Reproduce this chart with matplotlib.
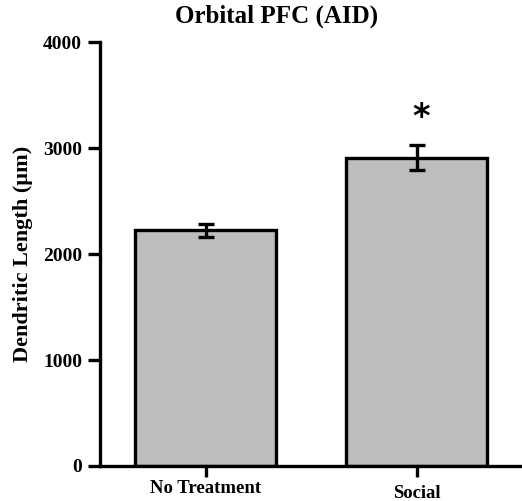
import matplotlib.pyplot as plt
import matplotlib.transforms as mtransforms

plt.rcParams['font.family'] = ['Liberation Serif', 'DejaVu Serif']
plt.rcParams['font.weight'] = 'bold'

grupos = ['No Treatment', 'Social']
medias = [2225, 2910]
erros = [62, 120]

fig = plt.figure(figsize=(5.22, 5.01), dpi=100)
ax = fig.add_axes([0.1916, 0.0699, 0.8084, 0.846])

x = list(range(len(grupos)))
ax.bar(x, medias, width=0.67, color='#bdbdbd', edgecolor='black', linewidth=2.4, zorder=2)
ax.errorbar(x, medias, yerr=erros, fmt='none', ecolor='black', elinewidth=2.4,
            capsize=6, capthick=2.4, zorder=3)

ax.text(1.02, medias[1] + erros[1] + 100, '*', ha='center', va='bottom',
        fontsize=24, fontweight='bold', family='DejaVu Sans')

ax.set_xlim(-0.5, 1.5)
ax.set_ylim(0, 4000)
ax.set_yticks([0, 1000, 2000, 3000, 4000])
ax.set_xticks(x)
ax.set_xticklabels(grupos, fontsize=13.5, fontweight='bold')
ax.tick_params(axis='y', labelsize=14, width=2.4, length=9, pad=4)
ax.tick_params(axis='x', width=2.4, length=8, pad=2)
for lab in ax.get_yticklabels():
    lab.set_fontweight('bold')

# "Social" sits a little lower in the original
lbl = ax.get_xticklabels()[1]
lbl.set_transform(lbl.get_transform() + mtransforms.ScaledTranslation(0, -4 / 72, fig.dpi_scale_trans))

for s in ['top', 'right']:
    ax.spines[s].set_visible(False)
for s in ['left', 'bottom']:
    ax.spines[s].set_linewidth(2.4)

ax.set_ylabel('Dendritic Length (µm)', fontsize=16, fontweight='bold')
ax.yaxis.set_label_coords(-0.158, 0.5)
fig.text(0.53, 0.968, 'Orbital PFC (AID)', ha='center', va='center', fontsize=18, fontweight='bold')

plt.savefig('out.png', dpi=100)
